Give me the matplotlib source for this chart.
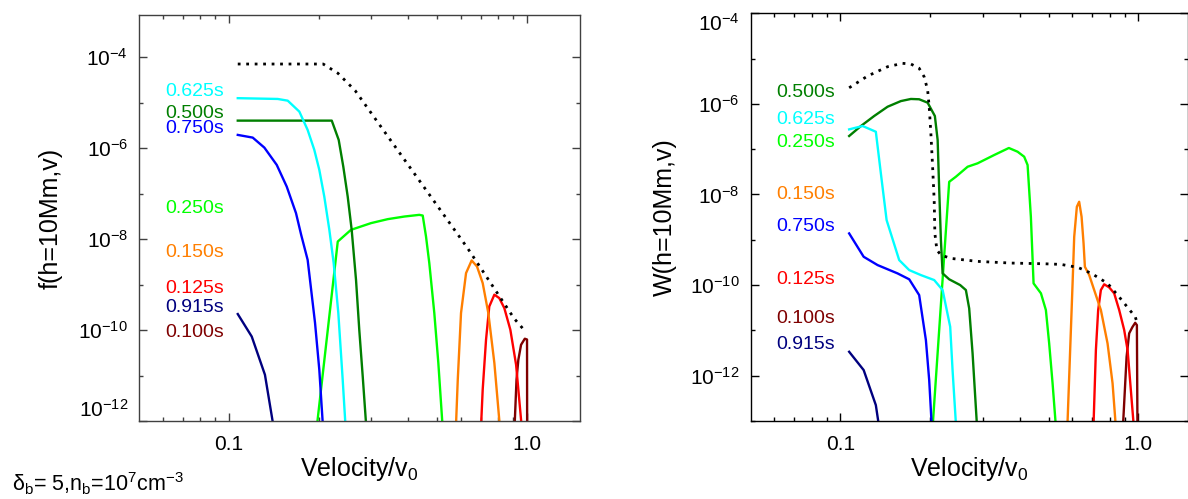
import math
import matplotlib
matplotlib.use("Agg")
import matplotlib.pyplot as plt

plt.rcParams['font.family'] = ['Liberation Sans', 'DejaVu Sans']
plt.rcParams['mathtext.fontset'] = 'custom'
plt.rcParams['mathtext.rm'] = 'Liberation Sans'
plt.rcParams['mathtext.it'] = 'Liberation Sans:italic'
plt.rcParams['mathtext.bf'] = 'Liberation Sans:bold'

# ---- data: left panel, f(h=10Mm, v) ----
f_dot_v = [0.107, 0.207, 0.232, 0.265, 0.632, 0.905, 0.992]
f_dot = [7.1e-5, 7.1e-5, 4.45e-5, 1.85e-5, 6.3e-9, 1.8e-10, 9.0e-11]

f_v_0100 = [0.906, 0.922, 0.935, 0.955, 0.983, 1.0, 1.001]
f_0100 = [5e-13, 8.1e-12, 2.2e-11, 4.75e-11, 6.45e-11, 6.2e-11, 5e-13]
f_v_0125 = [0.699, 0.710, 0.7285, 0.747, 0.777, 0.807, 0.839, 0.879, 0.919, 0.965]
f_0125 = [5e-13, 4.9e-12, 6.1e-11, 3.3e-10, 6.0e-10, 5.05e-10, 3.05e-10, 1.02e-10, 1.73e-11, 5e-13]
f_v_0150 = [0.576, 0.5856, 0.6005, 0.6243, 0.652, 0.6795, 0.71, 0.7415, 0.777, 0.815]
f_0150 = [5e-13, 8.1e-12, 2.37e-10, 1.79e-9, 3.4e-9, 2.5e-9, 1.08e-9, 2.37e-10, 1.88e-11, 5e-13]
f_v_0250 = [0.1966, 0.2317, 0.2566, 0.2996, 0.3408, 0.3876, 0.435, 0.4467, 0.4582, 0.470, 0.4885, 0.504, 0.523]
f_0250 = [6.5e-13, 8.85e-9, 1.6e-8, 2.25e-8, 2.75e-8, 3.14e-8, 3.42e-8, 3.3e-8, 1.14e-8, 2.97e-9, 2.37e-10, 1.88e-11, 5e-13]
f_v_0500 = [0.107, 0.2212, 0.2334, 0.2418, 0.2502, 0.258, 0.2668, 0.2736, 0.281, 0.290]
f_0500 = [4.04e-6, 4.04e-6, 1.52e-6, 3.94e-7, 8.63e-8, 1.6e-8, 1.27e-9, 1.01e-10, 9.5e-12, 5e-13]
f_v_0625 = [0.107, 0.1457, 0.1574, 0.1722, 0.1836, 0.1933, 0.2009, 0.2088, 0.2171, 0.2245, 0.2327, 0.2407, 0.247]
f_0625 = [1.26e-5, 1.21e-5, 1.11e-5, 6.37e-6, 2.52e-6, 9.17e-7, 3.34e-7, 8.6e-8, 1.6e-8, 2.97e-9, 2.36e-10, 8.1e-12, 5e-13]
f_v_0750 = [0.107, 0.1201, 0.1314, 0.1446, 0.1562, 0.1678, 0.1746, 0.1836, 0.1944, 0.2009, 0.2075]
f_0750 = [1.96e-6, 1.71e-6, 1.03e-6, 4.29e-7, 1.43e-7, 3.73e-8, 1.25e-8, 3.5e-9, 1.43e-10, 1.34e-11, 5e-13]
f_v_0915 = [0.107, 0.1192, 0.132, 0.1425]
f_0915 = [2.25e-10, 7.2e-11, 1.04e-11, 5e-13]

# ---- data: right panel, W(h=10Mm, v) ----
w_dot_v = [0.107, 0.1234, 0.144, 0.1617, 0.1724, 0.1838, 0.191, 0.1962, 0.1986, 0.2012, 0.2039,
           0.2064, 0.2075, 0.2108, 0.2174, 0.2348, 0.2886, 0.3733, 0.483, 0.5494, 0.6252, 0.6665,
           0.7107, 0.788, 0.8555, 0.9313, 0.9756, 0.99]
w_dot = [2.26e-6, 4.11e-6, 6.59e-6, 7.83e-6, 7.56e-6, 6.08e-6, 3.96e-6, 2.02e-6, 8.63e-7, 2.23e-7, 4.09e-8,
         7.5e-9, 1.38e-9, 5.93e-10, 4.6e-10, 3.88e-10, 3.33e-10, 3.06e-10, 2.95e-10, 2.86e-10, 2.46e-10, 2.07e-10,
         1.66e-10, 1.09e-10, 5.81e-11, 2.91e-11, 2.0e-11, 1.5e-11]

w_v_0100 = [0.886, 0.9129, 0.9313, 0.9547, 0.9756, 0.9885, 0.993]
w_0100 = [6e-14, 2.61e-12, 8.6e-12, 1.18e-11, 1.47e-11, 1.31e-11, 6e-14]
w_v_0125 = [0.706, 0.7201, 0.7329, 0.7484, 0.7679, 0.798, 0.8294, 0.8622, 0.8961, 0.92, 0.968]
w_0125 = [6e-14, 3.67e-12, 2.81e-11, 7.76e-11, 1.04e-10, 8.9e-11, 6.57e-11, 2.81e-11, 1.02e-11, 3.67e-12, 6e-14]
w_v_0150 = [0.577, 0.6014, 0.609, 0.6216, 0.6328, 0.6447, 0.6547, 0.6614, 0.6839, 0.7107, 0.7484, 0.788, 0.8192, 0.842]
w_0150 = [6e-14, 1.09e-10, 1.16e-9, 5.35e-9, 6.9e-9, 3.22e-9, 8.3e-10, 2.54e-10, 1.66e-10, 7.76e-11, 2.81e-11, 5.16e-12, 6.76e-13, 6e-14]
w_v_0250 = [0.2035, 0.2318, 0.2441, 0.2673, 0.2886, 0.3281, 0.3676, 0.3932, 0.4138, 0.4248, 0.4357, 0.4449,
            0.471, 0.4893, 0.5019, 0.5153, 0.53]
w_0250 = [6e-14, 1.9e-8, 2.46e-8, 4.09e-8, 4.86e-8, 7.41e-8, 1.06e-7, 8.77e-8, 6.8e-8, 4.46e-8, 3.22e-9, 1.09e-10,
          6.57e-11, 2.81e-11, 5.16e-12, 6.76e-13, 6e-14]
w_v_0500 = [0.107, 0.1172, 0.1298, 0.144, 0.1596, 0.1724, 0.1838, 0.1962, 0.2075, 0.212, 0.2146, 0.2174,
            0.2203, 0.2318, 0.2523, 0.2637, 0.2705, 0.2777, 0.288]
w_0500 = [1.95e-7, 3.24e-7, 5.38e-7, 8.63e-7, 1.15e-6, 1.28e-6, 1.26e-6, 1.06e-6, 5.38e-7, 1.59e-7, 1.25e-8, 9.84e-10,
          1.81e-10, 1.34e-10, 1.0e-10, 7.76e-11, 3.06e-11, 3.1e-12, 6e-14]
w_v_0625 = [0.107, 0.1187, 0.1315, 0.1367, 0.1429, 0.1575, 0.1702, 0.1863, 0.2064, 0.2203, 0.2336, 0.2379, 0.245]
w_0625 = [2.73e-7, 3.24e-7, 2.42e-7, 2.92e-8, 2.72e-9, 3.56e-10, 2.14e-10, 1.66e-10, 1.29e-10, 7.76e-11, 1.2e-11, 1.33e-12, 6e-14]
w_v_0750 = [0.107, 0.1197, 0.1333, 0.1555, 0.1702, 0.1838, 0.1936, 0.1986, 0.203]
w_0750 = [1.38e-9, 4.21e-10, 2.76e-10, 1.81e-10, 1.34e-10, 6.01e-11, 6.1e-12, 8.0e-13, 6e-14]
w_v_0915 = [0.107, 0.1197, 0.1315, 0.1355]
w_0915 = [3.37e-12, 1.33e-12, 2.24e-13, 6e-14]

times = ['0.100s', '0.125s', '0.150s', '0.250s', '0.500s', '0.625s', '0.750s', '0.915s']
colors = ['#7f0000', '#ff0000', '#ff7f00', '#00ff00', '#007f00', '#00ffff', '#0000ff', '#00007f']

f_curves = [(f_v_0100, f_0100), (f_v_0125, f_0125), (f_v_0150, f_0150), (f_v_0250, f_0250),
            (f_v_0500, f_0500), (f_v_0625, f_0625), (f_v_0750, f_0750), (f_v_0915, f_0915)]
w_curves = [(w_v_0100, w_0100), (w_v_0125, w_0125), (w_v_0150, w_0150), (w_v_0250, w_0250),
            (w_v_0500, w_0500), (w_v_0625, w_0625), (w_v_0750, w_0750), (w_v_0915, w_0915)]

# where the time labels sit (same order as times)
f_label_y = [8.85e-11, 8.4e-10, 5.07e-9, 4.8e-8, 5.9e-6, 1.75e-5, 2.65e-6, 3.2e-10]
w_label_y = [1.84e-11, 1.34e-10, 1.02e-8, 1.38e-7, 1.76e-6, 4.55e-7, 2.0e-9, 4.99e-12]
label_x = 0.096

x_minor = [0.06, 0.07, 0.08, 0.09, 0.2, 0.3, 0.4, 0.5, 0.6, 0.7, 0.8, 0.9]


def style_axes(ax, xmax, ymin, ymax, y_major, y_minor, edge):
    ax.set_xscale('log')
    ax.set_yscale('log')
    ax.set_xlim(0.05, xmax)
    ax.set_ylim(ymin, ymax)
    ax.set_xticks([0.1, 1.0], ['0.1', '1.0'])
    ax.set_xticks(x_minor, minor=True)
    ax.set_yticks(y_major, [r'$\mathregular{10^{%d}}$' % round(math.log10(v)) for v in y_major])
    ax.set_yticks(y_minor, minor=True)
    ax.xaxis.set_minor_formatter(plt.NullFormatter())
    ax.yaxis.set_minor_formatter(plt.NullFormatter())
    ax.tick_params(which='both', direction='in', top=True, right=True,
                   color=edge, width=1.0, labelsize=15)
    ax.tick_params(axis='x', which='both', pad=10)
    ax.tick_params(axis='y', which='both', pad=8)
    ax.tick_params(axis='x', which='major', length=6)
    ax.tick_params(axis='x', which='minor', length=3)
    ax.tick_params(axis='y', which='major', length=5.5)
    ax.tick_params(axis='y', which='minor', length=3)
    for s in ax.spines.values():
        s.set_color(edge)
        s.set_linewidth(1.0)
    ax.set_xlabel(r'Velocity/v$_\mathregular{0}$', fontsize=18, labelpad=0.5)


fig = plt.figure(figsize=(11.88, 4.99), dpi=100)
ax1 = fig.add_axes([139.3 / 1188, 78 / 499, 440.2 / 1188, 406 / 499])
ax2 = fig.add_axes([750.7 / 1188, 78 / 499, 437.1 / 1188, 407.8 / 499])

style_axes(ax1, 1.5, 1e-12, 8.5e-4, [1e-12, 1e-10, 1e-8, 1e-6, 1e-4],
           [1e-11, 1e-9, 1e-7, 1e-5], '#404040')
style_axes(ax2, 1.465, 1e-13, 1e-4, [1e-12, 1e-10, 1e-8, 1e-6, 1e-4],
           [1e-13, 1e-11, 1e-9, 1e-7, 1e-5], 'black')

ax1.get_yticklabels()[0].set_verticalalignment('bottom')
ax2.get_yticklabels()[-1].set_verticalalignment('top')

ax1.set_ylabel('f(h=10Mm,v)', fontsize=18)
ax1.yaxis.set_label_coords(-0.174, 0.5)
ax2.set_ylabel('W(h=10Mm,v)', fontsize=18)
ax2.yaxis.set_label_coords(-0.169, 0.5)

for ax, curves, dv, dy, ly in [(ax1, f_curves, f_dot_v, f_dot, f_label_y),
                               (ax2, w_curves, w_dot_v, w_dot, w_label_y)]:
    for (v, y), c, t, yl in zip(curves, colors, times, ly):
        ax.plot(v, y, color=c, lw=1.7)
        ax.text(label_x, yl, t, color=c, fontsize=14, ha='right', va='center')
    ax.plot(dv, dy, color='black', lw=2, linestyle=(0, (1, 2.05)))

fig.text(12 / 1188, 8 / 499, '\u03b4$_\\mathregular{b}$= 5,n$_\\mathregular{b}$=10$^\\mathregular{7}$cm$^\\mathregular{-3}$',
         fontsize=15.5, va='baseline')

fig.savefig('out.png', dpi=100)
